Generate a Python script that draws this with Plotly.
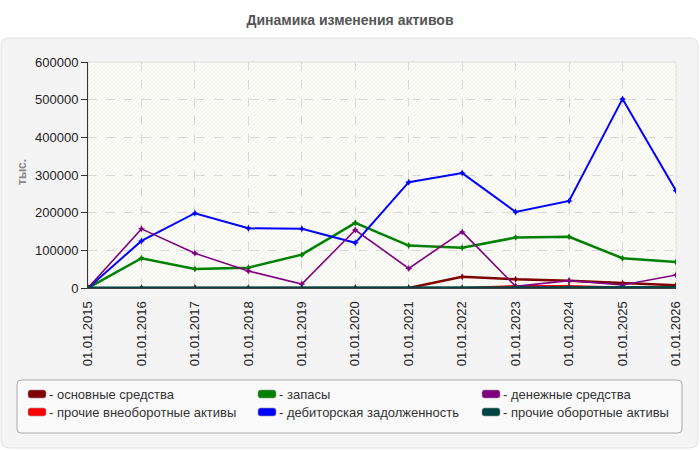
import base64
import plotly.graph_objects as go

categories = ["01.01.2015", "01.01.2016", "01.01.2017", "01.01.2018", "01.01.2019", "01.01.2020",
              "01.01.2021", "01.01.2022", "01.01.2023", "01.01.2024", "01.01.2025", "01.01.2026"]

osnovnye = [None, 0, 0, 0, 0, 0, 0, 30000, 23000, 19500, 12500, 7000]
prochie_vneob = [None, 0, 0, 0, 0, 0, 0, 0, 5500, 5500, 1000, 0]
zapasy = [0, 79000, 50500, 54000, 88500, 173000, 112500, 107000, 134000, 136000, 79000, 69000]
debitorka = [0, 125000, 198500, 158500, 157000, 120000, 281000, 305000, 202000, 231000, 502000, 258000]
denezhnye = [0, 157000, 92000, 45000, 10500, 154000, 52000, 149000, 4500, 19500, 8000, 34500]
prochie_ob = [0, 0, 0, 0, 0, 0, 0, 0, 1500, 1500, 1000, 1000]

y_ticks = [0, 100000, 200000, 300000, 400000, 500000, 600000]

legend_names = ["- основные средства", "- запасы", "- денежные средства",
                "- прочие внеоборотные активы", "- дебиторская задолженность", "- прочие оборотные активы"]
legend_colors = ["#800000", "#008000", "#800080", "#ff0000", "#0000ff", "#004444"]

W, H = 700, 450
L, R, T, B = 88, 24, 62, 162
PW, PH = W - L - R, H - T - B


def px_x(px):
    return (px - L) / PW


def px_y(py):
    return (H - B - py) / PH


def rounded(x0, y0, x1, y1, r):
    X = lambda v: px_x(v)
    Y = lambda v: px_y(v)
    return (f"M {X(x0 + r)} {Y(y0)} L {X(x1 - r)} {Y(y0)} Q {X(x1)} {Y(y0)} {X(x1)} {Y(y0 + r)} "
            f"L {X(x1)} {Y(y1 - r)} Q {X(x1)} {Y(y1)} {X(x1 - r)} {Y(y1)} "
            f"L {X(x0 + r)} {Y(y1)} Q {X(x0)} {Y(y1)} {X(x0)} {Y(y1 - r)} "
            f"L {X(x0)} {Y(y0 + r)} Q {X(x0)} {Y(y0)} {X(x0 + r)} {Y(y0)} Z")


# hatched plot-area background as an svg image
svg = (f'<svg xmlns="http://www.w3.org/2000/svg" width="{PW}" height="{PH}">'
       '<defs><pattern id="h" width="4" height="4" patternUnits="userSpaceOnUse">'
       '<rect width="4" height="4" fill="#fdfdf8"/>'
       '<path d="M-1,5 L5,-1" stroke="#ececec" stroke-width="0.8"/>'
       '</pattern></defs>'
       f'<rect width="{PW}" height="{PH}" fill="url(#h)"/></svg>')
svg_uri = "data:image/svg+xml;base64," + base64.b64encode(svg.encode()).decode()

fig = go.Figure()

series = [
    ("основные средства", osnovnye, "#800000", 2.5),
    ("прочие внеоборотные активы", prochie_vneob, "#ff0000", 2),
    ("запасы", zapasy, "#008000", 2.5),
    ("дебиторская задолженность", debitorka, "#0000ff", 2),
    ("денежные средства", denezhnye, "#800080", 1.6),
    ("прочие оборотные активы", prochie_ob, "#004444", 3),
]
for name, vals, col, w in series:
    fig.add_trace(go.Scatter(
        x=categories, y=vals, name=name, mode="lines+markers",
        line=dict(color=col, width=w),
        marker=dict(symbol="star-diamond", size=5, color=col),
        showlegend=False, connectgaps=False,
    ))

shapes = []
# outer panel with a hole for the plot area
panel_path = rounded(1, 38, 698, 448, 8) + f" M 0 0 L 0 1 L 1 1 L 1 0 Z"
shapes.append(dict(type="path", xref="paper", yref="paper", path=panel_path, fillrule="evenodd",
                   fillcolor="#f4f4f4", line=dict(color="#e2e2e2", width=0), layer="below"))
shapes.append(dict(type="path", xref="paper", yref="paper", path=rounded(1, 38, 698, 448, 8),
                   fillcolor="rgba(0,0,0,0)", line=dict(color="#e2e2e2", width=1), layer="below"))
# plot area border
shapes.append(dict(type="rect", xref="paper", yref="paper", x0=0, y0=0, x1=1, y1=1,
                   fillcolor="rgba(0,0,0,0)", line=dict(color="#dddddd", width=1), layer="below"))
# legend box
shapes.append(dict(type="path", xref="paper", yref="paper", path=rounded(17, 380, 682, 433, 4),
                   fillcolor="#fafafa", line=dict(color="#aaaaaa", width=1), layer="below"))

annotations = []
col_x = [28, 258, 482]
row_y = [394, 412]
for i, (nm, c) in enumerate(zip(legend_names, legend_colors)):
    cx = col_x[i % 3]
    cy = row_y[i // 3]
    shapes.append(dict(type="path", xref="paper", yref="paper",
                       path=rounded(cx, cy - 4, cx + 18, cy + 4, 2.5),
                       fillcolor=c, line=dict(color="#999999", width=0.6), layer="above"))
    annotations.append(dict(x=px_x(cx + 19), y=px_y(cy), xref="paper", yref="paper",
                            text=nm, showarrow=False, xanchor="left", yanchor="middle",
                            font=dict(size=13, color="#333333", family="Liberation Sans")))

annotations.append(dict(x=px_x(22), y=px_y(172), xref="paper", yref="paper", text="<b>тыс.</b>",
                        textangle=-90, showarrow=False, xanchor="center", yanchor="middle",
                        font=dict(size=12, color="#888888", family="Liberation Sans")))

fig.update_layout(
    width=W, height=H,
    margin=dict(l=L, r=R, t=T, b=B, autoexpand=False),
    paper_bgcolor="white",
    plot_bgcolor="rgba(0,0,0,0)",
    font=dict(family="Liberation Sans", size=13, color="#222222"),
    title=dict(text="<b>Динамика изменения активов</b>", x=0.5, xanchor="center",
               y=1 - 20 / H, yanchor="middle", yref="container",
               font=dict(size=14, color="#555555", family="Liberation Sans")),
    shapes=shapes,
    annotations=annotations,
    images=[dict(source=svg_uri, xref="paper", yref="paper", x=0, y=1, sizex=1, sizey=1,
                 xanchor="left", yanchor="top", sizing="stretch", layer="below")],
    showlegend=False,
)

fig.update_xaxes(
    type="category", range=[0, len(categories) - 1],
    tickangle=-90, ticks="outside", ticklen=7, tickcolor="rgba(0,0,0,0)",
    showgrid=True, gridcolor="#d9d9d9", griddash="dash", gridwidth=1,
    showline=True, linecolor="#444444", linewidth=1, zeroline=False,
    tickfont=dict(size=13, color="#222222"),
)
fig.update_yaxes(
    range=[0, 600000], tickvals=y_ticks, ticktext=[str(v) for v in y_ticks],
    ticks="outside", ticklen=6, tickcolor="#333333",
    showgrid=True, gridcolor="#d9d9d9", griddash="dash", gridwidth=1,
    showline=True, linecolor="#333333", linewidth=1, zeroline=False,
    tickfont=dict(size=13, color="#222222"),
)

fig.write_html("out.html")
